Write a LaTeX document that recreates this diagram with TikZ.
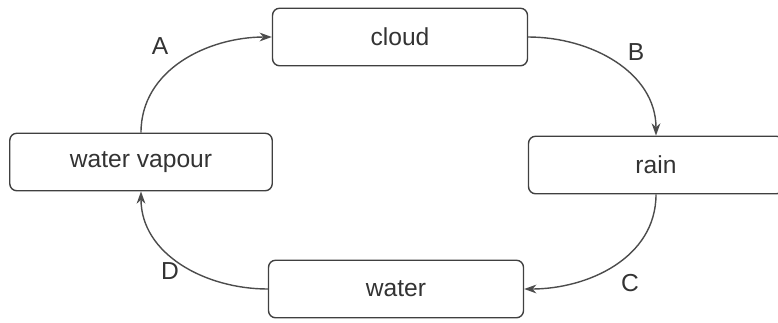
\documentclass[tikz,border=0pt]{standalone}
\usepackage{fontspec}
\setmainfont{Liberation Sans}
\usetikzlibrary{arrows.meta}

\begin{document}
\begin{tikzpicture}[x=0.02cm,y=-0.02cm,
        stage/.style={draw=black!75,thick,rounded corners=4pt,minimum width=5.1cm,minimum height=1.15cm,font=\fontsize{14}{16}\selectfont,text=black!80},
        flow/.style={draw=black!70,thick,-{Stealth[length=7pt,width=5pt]}},
        tag/.style={font=\fontsize{14}{16}\selectfont,text=black!80}]
            \useasboundingbox (0,0) rectangle (778,322);
            \node[stage] (cloud) at (400,37) {cloud};
            \node[stage,minimum width=5.25cm] (vapour) at (141,162) {water vapour};
            \node[stage] (rain) at (656,165) {rain};
            \node[stage] (water) at (396,289) {water};
            \draw[flow] (vapour.north) to[out=90,in=180] (cloud.west);
            \draw[flow] (cloud.east) to[out=0,in=90] (rain.north);
            \draw[flow] (rain.south) to[out=-90,in=0] (water.east);
            \draw[flow] (water.west) to[out=180,in=-90] (vapour.south);
            \node[tag] (lA) at (160,46) {A};
            \node[tag] (lB) at (636,52) {B};
            \node[tag] (lC) at (630,283) {C};
            \node[tag] (lD) at (170,271) {D};
        \end{tikzpicture}
\end{document}
